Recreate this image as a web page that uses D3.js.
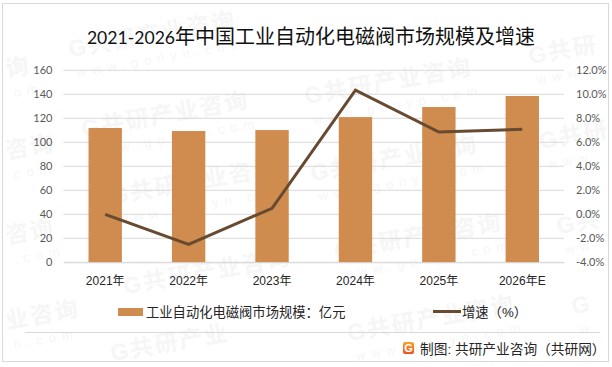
<!DOCTYPE html>
<html>
<head>
<meta charset="utf-8">
<script src="https://cdn.jsdelivr.net/npm/d3@7"></script>
<style>
  html, body { margin: 0; padding: 0; background: #fff; }
  svg { display: block; }
  text { font-family: "Liberation Sans", "Noto Sans CJK SC", sans-serif; }
  .lato text, text.lato, tspan.lato { font-family: "Lato", "Noto Sans CJK SC", sans-serif; }
</style>
</head>
<body>
<div id="chart"></div>
<script>
const categories = ["2021年", "2022年", "2023年", "2024年", "2025年", "2026年E"];
const marketSize = [111.9, 109.4, 110.2, 121, 129.4, 138.6];
const growthRate = [0, -2.5, 0.5, 10.35, 6.85, 7.08];
const leftTicks = [0, 20, 40, 60, 80, 100, 120, 140, 160];
const rightTicks = [-4, -2, 0, 2, 4, 6, 8, 10, 12];
const barLegend = "工业自动化电磁阀市场规模：亿元";
const lineLegend = "增速（%）";
const sourceText = "制图: 共研产业咨询（共研网）";
// faint watermark stamps: left edge, baseline, and the part of the stamp that fits on the page
const stampX = [70, 83, 112, 306, 312, 336, 349, 125, 112, 530, 541, 558, 573, 7, 7, 7, 7];
const stampY = [57, 137, 204, 104, 181, 259, 341, 294, 361, 64, 149, 234, 314, 77, 159, 244, 329];
const stampText = ["G共研产业咨询", "G共研产业咨询", "G共研产业咨询", "G共研产业咨询", "G共研产业咨询", "G共研产业咨询",
  "G共研产业咨询", "G共研产业咨询", "G共研产业", "G共研", "G共研", "G共", "G", "询", "咨询", "咨询", "业咨询"];
const stampUrl = ["www.gonyn.com", "www.gonyn.com", "www.gonyn.com", "www.gonyn.com", "www.gonyn.com", "www.gonyn.com",
  "www.gonyn.com", "", "", "www", "www", "ww", "w", "om", "com", ".com", "n.com"];

const margin = { top: 70.3, left: 63.5, right: 48, bottom: 104.7 };
const width = 612 - margin.left - margin.right;
const height = 367 - margin.top - margin.bottom;

const svg = d3.select("#chart").append("svg")
  .attr("width", 612)
  .attr("height", 367);

const defs = svg.append("defs");
const logoFill = defs.append("linearGradient")
  .attr("id", "logoFill")
  .attr("x1", 0).attr("y1", 0).attr("x2", 0).attr("y2", 1);
logoFill.append("stop").attr("offset", "0%").attr("stop-color", "#f9a32a");
logoFill.append("stop").attr("offset", "100%").attr("stop-color", "#ec4f24");

// watermark goes first so everything sits on top of it
const stamps = svg.append("g").attr("class", "stamps");
stampX.forEach(function(x, i) {
  const g = stamps.append("g")
    .attr("transform", "translate(" + x + "," + stampY[i] + ") rotate(-10)");
  g.append("text")
    .style("font-size", "23px")
    .style("font-weight", "bold")
    .style("letter-spacing", "2px")
    .attr("fill", "#f6f6f6")
    .text(stampText[i]);
  g.append("text")
    .attr("x", 4)
    .attr("y", 21)
    .style("font-size", "13px")
    .style("letter-spacing", "6px")
    .attr("fill", "#f6f6f6")
    .text(stampUrl[i]);
});

// outer frame
svg.append("rect")
  .attr("x", 2.5).attr("y", 3.5)
  .attr("width", 606).attr("height", 358)
  .attr("fill", "none")
  .attr("stroke", "#d9d9d9")
  .attr("stroke-width", 1);

const plot = svg.append("g")
  .attr("transform", "translate(" + margin.left + "," + margin.top + ")");

const x = d3.scaleBand().domain(categories).range([0, width]).paddingInner(0.6).paddingOuter(0.3);
const xCenter = d3.scaleBand().domain(categories).range([0, width]);
const yLeft = d3.scaleLinear().domain([0, 160]).range([height, 0]);
const yRight = d3.scaleLinear().domain([-4, 12]).range([height, 0]);

// gridlines
plot.append("g").selectAll("line")
  .data(leftTicks)
  .join("line")
  .attr("x1", 0).attr("x2", width)
  .attr("y1", d => yLeft(d)).attr("y2", d => yLeft(d))
  .attr("stroke", "#d9d9d9")
  .attr("stroke-width", 1);

const leftAxis = plot.append("g")
  .attr("class", "lato")
  .call(d3.axisLeft(yLeft).tickValues(leftTicks).tickSize(0).tickPadding(11));
leftAxis.select(".domain").remove();
leftAxis.selectAll("text").style("font-size", "11px").attr("fill", "#595959");

const rightAxis = plot.append("g")
  .attr("class", "lato")
  .attr("transform", "translate(" + width + ",0)")
  .call(d3.axisRight(yRight).tickValues(rightTicks).tickSize(0).tickPadding(12)
    .tickFormat(d => d.toFixed(1) + "%"));
rightAxis.select(".domain").remove();
rightAxis.selectAll("text").style("font-size", "11px").attr("fill", "#595959");

plot.selectAll("rect.bar")
  .data(marketSize)
  .join("rect")
  .attr("class", "bar")
  .attr("x", (d, i) => x(categories[i]))
  .attr("y", d => yLeft(d))
  .attr("width", x.bandwidth())
  .attr("height", d => height - yLeft(d))
  .attr("fill", "#d08b4f");

const line = d3.line()
  .x((d, i) => xCenter(categories[i]) + xCenter.bandwidth() / 2)
  .y(d => yRight(d));

plot.append("path")
  .datum(growthRate)
  .attr("d", line)
  .attr("fill", "none")
  .attr("stroke", "#674a30")
  .attr("stroke-width", 3)
  .attr("stroke-linejoin", "miter");

const xAxis = plot.append("g")
  .attr("transform", "translate(0," + height + ")")
  .call(d3.axisBottom(xCenter).tickSize(0).tickPadding(14));
xAxis.select(".domain").attr("stroke", "#d9d9d9");
xAxis.selectAll("text").style("font-size", "12px").attr("fill", "#262626");

// title digits are set a bit smaller than the CJK, like the original
const title = svg.append("text")
  .attr("x", 311)
  .attr("y", 44)
  .attr("text-anchor", "middle")
  .style("font-size", "20px")
  .attr("fill", "#111");
title.append("tspan").attr("class", "lato").style("font-size", "17.6px").text("2021-2026");
title.append("tspan").text("年中国工业自动化电磁阀市场规模及增速");

// legend
svg.append("rect")
  .attr("x", 118).attr("y", 308)
  .attr("width", 25).attr("height", 8)
  .attr("fill", "#d08b4f");
svg.append("text")
  .attr("x", 146).attr("y", 317)
  .style("font-size", "13.3px")
  .attr("fill", "#262626")
  .text(barLegend);
svg.append("line")
  .attr("x1", 433).attr("x2", 461)
  .attr("y1", 311.5).attr("y2", 311.5)
  .attr("stroke", "#674a30")
  .attr("stroke-width", 3);
svg.append("text")
  .attr("x", 462).attr("y", 317)
  .style("font-size", "13.3px")
  .attr("fill", "#262626")
  .text(lineLegend);

// footer rule, logo and source
svg.append("line")
  .attr("x1", 25).attr("x2", 600)
  .attr("y1", 332.5).attr("y2", 332.5)
  .attr("stroke", "#d9d9d9");
svg.append("rect")
  .attr("x", 403).attr("y", 342)
  .attr("width", 11).attr("height", 12)
  .attr("rx", 2)
  .attr("fill", "url(#logoFill)");
svg.append("text")
  .attr("x", 408.5).attr("y", 352)
  .attr("text-anchor", "middle")
  .style("font-size", "11px")
  .style("font-weight", "bold")
  .attr("fill", "#fff")
  .text("G");
svg.append("text")
  .attr("x", 420).attr("y", 354)
  .style("font-size", "13.7px")
  .attr("fill", "#262626")
  .text(sourceText);
</script>
</body>
</html>
